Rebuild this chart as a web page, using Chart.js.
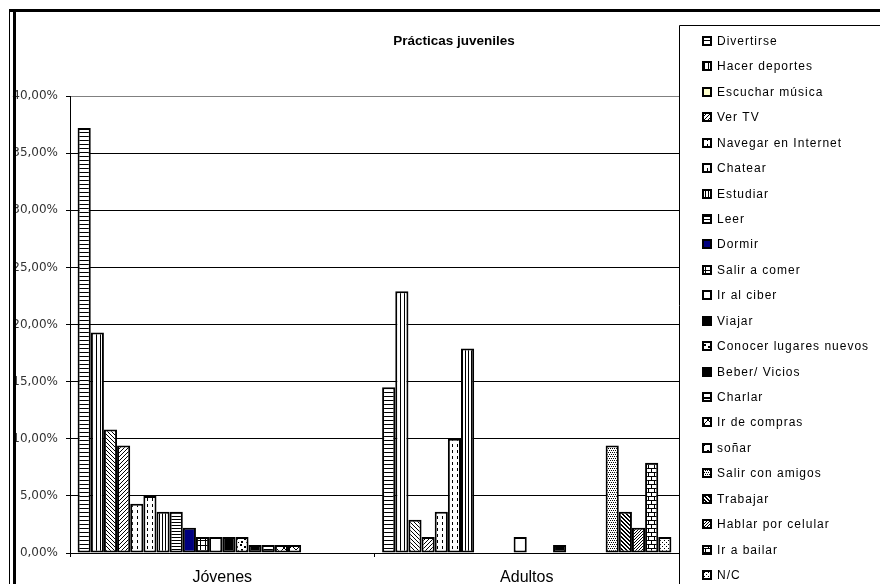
<!DOCTYPE html>
<html><head><meta charset="utf-8">
<script src="https://cdn.jsdelivr.net/npm/chart.js@4/dist/chart.umd.min.js"></script>
<style>html,body{margin:0;padding:0;background:#fff;overflow:hidden}canvas{display:block}</style>
</head><body>
<canvas id="c" width="880" height="584"></canvas>
<script>
// ---------- data ----------
const chartTitle = 'Prácticas juveniles';
const categories = ['Jóvenes', 'Adultos'];
const seriesNames = ['Divertirse','Hacer deportes','Escuchar música','Ver TV','Navegar en Internet','Chatear','Estudiar','Leer','Dormir','Salir a comer','Ir al ciber','Viajar','Conocer lugares nuevos','Beber/ Vicios','Charlar','Ir de compras','soñar','Salir con amigos','Trabajar','Hablar por celular','Ir a bailar','N/C'];
const jovenes = [37.2,19.3,10.8,9.4,4.3,5.0,3.6,3.6,2.2,1.4,1.4,1.4,1.4,0.7,0.7,0.7,0.7,0,0,0,0,0];
const adultos = [14.5,22.9,2.9,1.4,3.6,10.0,17.9,0,0,0,1.4,0,0,0.7,0,0,0,9.4,3.6,2.2,7.9,1.4];
const yTicks = [0,5,10,15,20,25,30,35,40];

// ---------- fills ----------
const canvas = document.getElementById('c');
const mainCtx = canvas.getContext('2d');
function pat(w, h, test, bg) {
  const c = document.createElement('canvas'); c.width = w; c.height = h;
  const g = c.getContext('2d');
  g.fillStyle = bg || '#fff'; g.fillRect(0, 0, w, h);
  g.fillStyle = '#000';
  for (let y = 0; y < h; y++) for (let x = 0; x < w; x++) if (test(x, y)) g.fillRect(x, y, 1, 1);
  return mainCtx.createPattern(c, 'repeat');
}
const fills = [
  pat(4,4,(x,y)=>y===0),                       // Divertirse
  pat(4,4,(x,y)=>x===0),                       // Hacer deportes
  pat(4,4,(x,y)=>(x-y+8)%4===0),               // Escuchar música
  pat(4,4,(x,y)=>(x+y)%4===3),                 // Ver TV
  pat(5,6,(x,y)=>x===2&&y<3),                  // Navegar
  pat(5,6,(x,y)=>x===2&&y<3),                  // Chatear
  pat(3,1,(x,y)=>x===0),                       // Estudiar
  pat(1,3,(x,y)=>y===0),                       // Leer
  '#000080',                                   // Dormir
  pat(5,5,(x,y)=>x===0||y===0),                // Salir a comer
  '#ffffff',                                   // Ir al ciber
  '#000000',                                   // Viajar
  pat(8,8,(x,y)=>(x<2&&y<2)||(x>=4&&x<6&&y>=2&&y<4)||(x>=1&&x<3&&y>=5&&y<7)||(x===6&&y===6)), // Conocer
  '#000000',                                   // Beber
  pat(1,8,(x,y)=>y===5||y===6),                // Charlar
  pat(8,8,(x,y)=>x===y||x+y===7),              // Ir de compras
  pat(8,8,(x,y)=>y===(x<4?5-x:x-2)),           // soñar
  pat(4,4,(x,y)=>(y===0&&x%2===0)||(y===2&&x%2===1)), // Salir con amigos
  pat(4,4,(x,y)=>{const m=(x-y+8)%4;return m===0||m===1;}), // Trabajar
  pat(3,3,(x,y)=>(x+y)%3===0),                 // Hablar por celular
  pat(6,8,(x,y)=>y%4===0||(y<4&&x===0)||(y>4&&x===3)), // Ir a bailar
  pat(4,4,(x,y)=>(x===0&&y===0)||(x===2&&y===2)) // N/C
];
const legendSwatch = {2: '#FFFFCC'};

// ---------- plugins ----------
const decor = {
  id: 'decor',
  afterDraw(chart) {
    const ctx = chart.ctx;
    ctx.save();
    // title
    ctx.font = 'bold 13.5px "Liberation Sans", Arial, sans-serif';
    ctx.fillStyle = '#000';
    ctx.textAlign = 'center';
    ctx.textBaseline = 'alphabetic';
    ctx.fillText(chartTitle, 454, 45);
    // legend box
    ctx.strokeStyle = '#000';
    ctx.lineWidth = 1;
    ctx.beginPath();
    ctx.moveTo(679.5, 590); ctx.lineTo(679.5, 25.5); ctx.lineTo(890, 25.5);
    ctx.stroke();
    // legend items
    ctx.font = '12px "Liberation Sans", Arial, sans-serif';
    ctx.textAlign = 'left';
    ctx.textBaseline = 'middle';
    try { ctx.letterSpacing = '1px'; } catch (e) {}
    chart.data.datasets.forEach((ds, i) => {
      const cy = Math.round(41 + i * 25.43);
      ctx.fillStyle = legendSwatch[i] || ds.backgroundColor;
      ctx.fillRect(702, cy - 5, 10, 10);
      ctx.lineWidth = 2;
      ctx.strokeStyle = '#000';
      ctx.strokeRect(703, cy - 4, 8, 8);
      ctx.fillStyle = '#000';
      ctx.fillText(ds.label, 717, cy + 0.5);
    });
    try { ctx.letterSpacing = '0px'; } catch (e) {}
    // outer border
    ctx.fillStyle = '#000';
    ctx.fillRect(9, 9, 871, 3);
    ctx.fillRect(9, 9, 1, 575);
    ctx.fillRect(13, 9, 3, 575);
    ctx.restore();
  }
};

new Chart(canvas, {
  type: 'bar',
  data: {
    labels: categories,
    datasets: seriesNames.map((name, i) => ({
      label: name,
      data: [jovenes[i], adultos[i]],
      backgroundColor: fills[i],
      borderColor: '#000',
      borderWidth: 2,
      borderSkipped: false
    }))
  },
  options: {
    responsive: false,
    animation: false,
    devicePixelRatio: 1,
    layout: { padding: { left: 0, right: 201, top: 96, bottom: 0 } },
    datasets: { bar: { categoryPercentage: 0.95, barPercentage: 1 } },
    plugins: { legend: { display: false }, title: { display: false }, tooltip: { enabled: false } },
    scales: {
      x: {
        grid: { offset: true, drawOnChartArea: false, tickLength: 4, color: '#000' },
        border: { color: '#000', width: 1 },
        ticks: { color: '#000', font: { family: '"Liberation Sans", Arial, sans-serif', size: 16 }, padding: 11 },
        afterFit: s => { s.height = 31; }
      },
      y: {
        min: 0, max: 40,
        afterBuildTicks: s => { s.ticks = yTicks.map(v => ({ value: v })); },
        ticks: {
          color: '#333',
          font: { family: '"DejaVu Sans", Verdana, sans-serif', size: 12 },
          padding: 8,
          callback: v => v.toFixed(2).replace('.', ',') + '%'
        },
        grid: { color: c => (c.tick && c.tick.value === 40) ? '#808080' : '#000', tickColor: '#000', tickLength: 4, lineWidth: 1 },
        border: { color: '#000', width: 1 },
        afterFit: s => { s.width = 70; }
      }
    }
  },
  plugins: [decor]
});
</script>
</body></html>
